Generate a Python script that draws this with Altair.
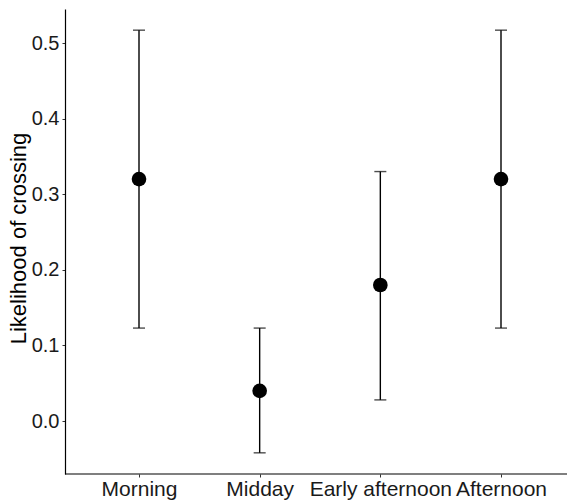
import altair as alt
import pandas as pd

periods = ["Morning", "Midday", "Early afternoon", "Afternoon"]
means = [0.32, 0.04, 0.18, 0.32]
lower = [0.123, -0.042, 0.028, 0.123]
upper = [0.517, 0.123, 0.330, 0.517]

df = pd.DataFrame({"period": periods, "mean": means, "lo": lower, "hi": upper})

FONT = "Liberation Sans"
x = alt.X("period:N", sort=periods, title=None,
          scale=alt.Scale(type="point", padding=0, range=[74, 436]),
          axis=alt.Axis(labelFontSize=21, labelColor="#1a1a1a", labelFont=FONT,
                        labelAngle=0, labelOverlap=False, labelLimit=0,
                        tickSize=3, tickColor="#333333", domain=False,
                        labelPadding=1, grid=False))
yscale = alt.Scale(domain=[-0.070, 0.545], nice=False, zero=False)
yaxis = alt.Axis(title="Likelihood of crossing", titleFontSize=22, titleFont=FONT,
                 titleFontWeight="normal", titleColor="#000000", titlePadding=1,
                 titleY=229,
                 labelFontSize=20, labelColor="#1a1a1a", labelFont=FONT,
                 values=[0.0, 0.1, 0.2, 0.3, 0.4, 0.5], format=".1f",
                 tickSize=3, tickColor="#333333", domainColor="#000000",
                 domainWidth=1.2, labelPadding=3, grid=False)

base = alt.Chart(df)
baseline = alt.Chart(pd.DataFrame({"a": [0]})).mark_rule(
    color="#000000", strokeWidth=1.2).encode(
    y=alt.value(465), x=alt.value(0), x2=alt.value(502))
rules = base.mark_rule(color="#000000", strokeWidth=1.4).encode(
    x=x, y=alt.Y("lo:Q", scale=yscale, axis=yaxis), y2="hi:Q")
caps_lo = base.mark_tick(color="#000000", thickness=1.4, size=12).encode(
    x=x, y=alt.Y("lo:Q", scale=yscale, axis=yaxis))
caps_hi = base.mark_tick(color="#000000", thickness=1.4, size=12).encode(
    x=x, y=alt.Y("hi:Q", scale=yscale, axis=yaxis))
points = base.mark_circle(color="#000000", opacity=1, size=215).encode(
    x=x, y=alt.Y("mean:Q", scale=yscale, axis=yaxis))

chart = alt.layer(rules, caps_lo, caps_hi, points, baseline).properties(
    width=502, height=465,
    autosize=alt.AutoSizeParams(type="none"),
    padding={"left": 65, "top": 9, "right": 0, "bottom": 26},
    background="white",
).configure_view(stroke=None)

chart.save("out.html", embed_options={"renderer": "svg", "actions": False})
